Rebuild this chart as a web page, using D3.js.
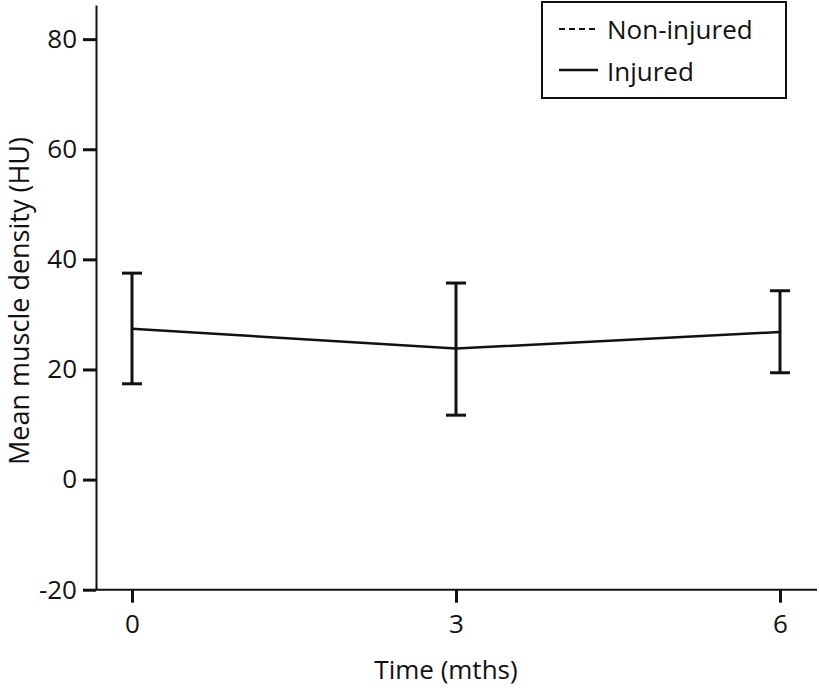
<!DOCTYPE html>
<html><head><meta charset="utf-8">
<script src="https://cdn.jsdelivr.net/npm/d3@7"></script>
<style>body{margin:0;background:#fff}svg{display:block}text{font-family:"Open Sans",sans-serif;fill:#111}</style>
</head><body><svg id="c" width="819" height="690"></svg>
<script>
const months = [0, 3, 6];
const injuredMean = [27.4, 23.8, 26.8];
const injuredUpper = [37.5, 35.7, 34.3];
const injuredLower = [17.4, 11.7, 19.4];
const yTicks = [-20, 0, 20, 40, 60, 80];
const xTicks = [0, 3, 6];
const legendLabels = ["Non-injured", "Injured"];

const svg = d3.select("#c");
const x = d3.scaleLinear().domain([0, 6]).range([132, 780]);
const y = d3.scaleLinear().domain([-20, 86.2]).range([589.7, 5]);
const fs = 26;
const fmt = d => String(d);

const gy = svg.append("g").attr("transform", "translate(96,0)")
  .call(d3.axisLeft(y).tickValues(yTicks).tickFormat(fmt).tickSize(13).tickPadding(6).tickSizeOuter(0));
gy.select(".domain").attr("stroke", "#111").attr("stroke-width", 2);
gy.selectAll(".tick line").attr("stroke", "#111").attr("stroke-width", 3);
gy.selectAll("text").attr("font-size", fs).attr("font-family", "Open Sans").attr("fill", "#111");

const gx = svg.append("g").attr("transform", "translate(0,589.7)")
  .call(d3.axisBottom(x).tickValues(xTicks).tickFormat(fmt).tickSize(13).tickPadding(12).tickSizeOuter(0));
gx.select(".domain").attr("d", "M96,0H817").attr("stroke", "#111").attr("stroke-width", 2);
gx.selectAll(".tick line").attr("stroke", "#111").attr("stroke-width", 3);
gx.selectAll("text").attr("font-size", fs).attr("font-family", "Open Sans").attr("fill", "#111");

svg.append("text").attr("x", 446).attr("y", 679).attr("text-anchor", "middle")
  .attr("font-size", fs).text("Time (mths)");
svg.append("text").attr("transform", "translate(29,301) rotate(-90)").attr("text-anchor", "middle")
  .attr("font-size", 27).text("Mean muscle density (HU)");

const line = d3.line().x((d, i) => x(months[i])).y(d => y(d));
svg.append("path").attr("d", line(injuredMean)).attr("fill", "none").attr("stroke", "#111").attr("stroke-width", 2.5);

const eb = svg.append("g").attr("stroke", "#111").attr("stroke-width", 3);
months.forEach((m, i) => {
  const cx = x(m);
  eb.append("line").attr("x1", cx).attr("x2", cx).attr("y1", y(injuredUpper[i])).attr("y2", y(injuredLower[i]));
  eb.append("line").attr("x1", cx - 10).attr("x2", cx + 10).attr("y1", y(injuredUpper[i])).attr("y2", y(injuredUpper[i]));
  eb.append("line").attr("x1", cx - 10).attr("x2", cx + 10).attr("y1", y(injuredLower[i])).attr("y2", y(injuredLower[i]));
});

const lg = svg.append("g");
lg.append("rect").attr("x", 542).attr("y", 2).attr("width", 244).attr("height", 96)
  .attr("fill", "#fff").attr("stroke", "#111").attr("stroke-width", 2);
lg.append("line").attr("x1", 559).attr("x2", 598).attr("y1", 29).attr("y2", 29)
  .attr("stroke", "#111").attr("stroke-width", 2).attr("stroke-dasharray", "6,4");
lg.append("line").attr("x1", 559).attr("x2", 598).attr("y1", 70).attr("y2", 70)
  .attr("stroke", "#111").attr("stroke-width", 2.5);
lg.append("text").attr("x", 607).attr("y", 39).attr("font-size", fs).text(legendLabels[0]);
lg.append("text").attr("x", 607).attr("y", 81).attr("font-size", fs).text(legendLabels[1]);
</script></body></html>
